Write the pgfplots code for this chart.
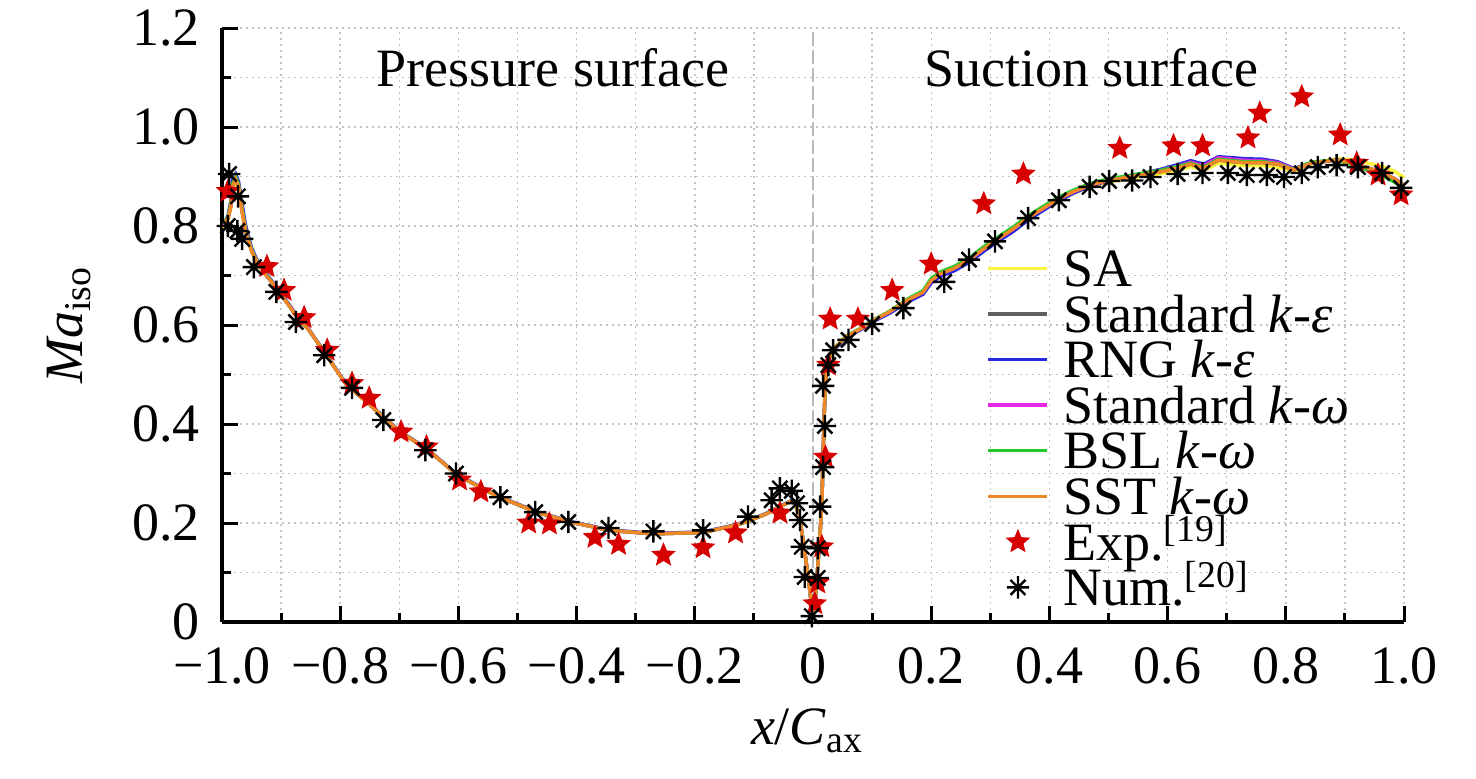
\documentclass[border=0pt]{standalone}
\usepackage{fontspec}
\setmainfont{Liberation Serif}
\usepackage{pgfplots}
\pgfplotsset{compat=1.18}
\usepackage{pgfplotstable}

\definecolor{cSA}{RGB}{250,245,60}
\definecolor{cSKE}{RGB}{95,95,95}
\definecolor{cRNG}{RGB}{40,40,225}
\definecolor{cSKW}{RGB}{230,40,230}
\definecolor{cBSL}{RGB}{40,200,40}
\definecolor{cSST}{RGB}{240,135,40}
\definecolor{cExp}{RGB}{215,0,0}
\definecolor{cGrid}{RGB}{195,195,195}

\pgfdeclareplotmark{pstar}{%
  \pgfpathmoveto{\pgfpointpolar{90}{\pgfplotmarksize}}%
  \pgfpathlineto{\pgfpointpolar{126}{0.45\pgfplotmarksize}}%
  \pgfpathlineto{\pgfpointpolar{162}{\pgfplotmarksize}}%
  \pgfpathlineto{\pgfpointpolar{198}{0.45\pgfplotmarksize}}%
  \pgfpathlineto{\pgfpointpolar{234}{\pgfplotmarksize}}%
  \pgfpathlineto{\pgfpointpolar{270}{0.45\pgfplotmarksize}}%
  \pgfpathlineto{\pgfpointpolar{306}{\pgfplotmarksize}}%
  \pgfpathlineto{\pgfpointpolar{342}{0.45\pgfplotmarksize}}%
  \pgfpathlineto{\pgfpointpolar{18}{\pgfplotmarksize}}%
  \pgfpathlineto{\pgfpointpolar{54}{0.45\pgfplotmarksize}}%
  \pgfpathclose
  \pgfusepathqfillstroke
}
\pgfdeclareplotmark{ast8}{%
  \pgfpathmoveto{\pgfqpoint{-\pgfplotmarksize}{0pt}}%
  \pgfpathlineto{\pgfqpoint{\pgfplotmarksize}{0pt}}%
  \pgfpathmoveto{\pgfqpoint{0pt}{-\pgfplotmarksize}}%
  \pgfpathlineto{\pgfqpoint{0pt}{\pgfplotmarksize}}%
  \pgfpathmoveto{\pgfpointpolar{45}{0.95\pgfplotmarksize}}%
  \pgfpathlineto{\pgfpointpolar{225}{0.95\pgfplotmarksize}}%
  \pgfpathmoveto{\pgfpointpolar{135}{0.95\pgfplotmarksize}}%
  \pgfpathlineto{\pgfpointpolar{315}{0.95\pgfplotmarksize}}%
  \pgfusepathqstroke
}

\pgfplotstableread{
x      sa    ske   rng   skw   bsl   sst
-0.997 0.795 0.800 0.805 0.800 0.805 0.805
-0.990 0.812 0.815 0.820 0.815 0.818 0.815
-0.985 0.835 0.840 0.850 0.842 0.845 0.840
-0.982 0.875 0.880 0.895 0.882 0.885 0.880
-0.977 0.890 0.895 0.905 0.897 0.900 0.895
-0.972 0.876 0.880 0.890 0.882 0.884 0.880
-0.966 0.826 0.830 0.845 0.832 0.835 0.830
-0.960 0.788 0.790 0.800 0.792 0.793 0.790
-0.950 0.748 0.750 0.756 0.751 0.752 0.750
-0.940 0.724 0.725 0.729 0.726 0.726 0.725
-0.925 0.700 0.700 0.703 0.700 0.701 0.700
-0.908 0.675 0.675 0.677 0.675 0.675 0.675
-0.890 0.645 0.645 0.647 0.645 0.645 0.645
-0.875 0.620 0.620 0.622 0.620 0.620 0.620
-0.853 0.590 0.590 0.591 0.590 0.590 0.590
-0.824 0.540 0.540 0.541 0.540 0.540 0.540
-0.790 0.480 0.480 0.481 0.480 0.480 0.480
-0.751 0.440 0.440 0.441 0.440 0.440 0.440
-0.700 0.385 0.385 0.386 0.385 0.385 0.385
-0.654 0.350 0.350 0.351 0.350 0.350 0.350
-0.603 0.298 0.298 0.299 0.298 0.298 0.298
-0.560 0.270 0.270 0.271 0.270 0.270 0.270
-0.530 0.252 0.252 0.253 0.252 0.252 0.252
-0.468 0.222 0.222 0.223 0.222 0.222 0.222
-0.410 0.202 0.202 0.203 0.202 0.202 0.202
-0.344 0.185 0.185 0.186 0.185 0.185 0.185
-0.270 0.178 0.178 0.179 0.178 0.178 0.178
-0.186 0.181 0.181 0.182 0.181 0.181 0.181
-0.129 0.196 0.196 0.197 0.196 0.196 0.196
-0.107 0.205 0.205 0.206 0.205 0.205 0.205
-0.080 0.218 0.218 0.219 0.218 0.218 0.218
-0.056 0.233 0.233 0.234 0.233 0.233 0.233
-0.039 0.243 0.243 0.244 0.243 0.243 0.243
-0.030 0.240 0.240 0.241 0.240 0.240 0.240
-0.022 0.206 0.206 0.206 0.206 0.206 0.206
-0.015 0.150 0.150 0.150 0.150 0.150 0.150
-0.008 0.090 0.090 0.090 0.090 0.090 0.090
-0.003 0.040 0.040 0.040 0.040 0.040 0.040
0.000  0.020 0.020 0.020 0.020 0.020 0.020
0.004  0.050 0.050 0.050 0.050 0.050 0.050
0.008  0.110 0.110 0.110 0.110 0.110 0.110
0.012  0.180 0.180 0.180 0.180 0.180 0.180
0.015  0.240 0.240 0.240 0.240 0.240 0.240
0.017  0.330 0.330 0.330 0.330 0.330 0.330
0.019  0.420 0.420 0.420 0.420 0.420 0.420
0.021  0.480 0.480 0.480 0.480 0.480 0.480
0.023  0.515 0.515 0.515 0.515 0.515 0.515
0.028  0.535 0.535 0.535 0.535 0.535 0.535
0.034  0.550 0.550 0.549 0.550 0.551 0.550
0.045  0.563 0.563 0.561 0.563 0.564 0.563
0.057  0.577 0.577 0.575 0.577 0.578 0.577
0.080  0.592 0.592 0.590 0.592 0.593 0.592
0.100  0.608 0.608 0.606 0.608 0.609 0.608
0.130  0.626 0.627 0.624 0.627 0.628 0.627
0.159  0.648 0.650 0.646 0.650 0.652 0.650
0.186  0.664 0.666 0.662 0.666 0.669 0.666
0.200  0.688 0.690 0.685 0.690 0.694 0.690
0.215  0.701 0.703 0.698 0.703 0.707 0.703
0.240  0.713 0.715 0.710 0.715 0.719 0.715
0.266  0.731 0.733 0.728 0.733 0.737 0.733
0.290  0.752 0.755 0.750 0.755 0.759 0.755
0.312  0.770 0.773 0.768 0.773 0.777 0.773
0.340  0.792 0.795 0.790 0.795 0.799 0.795
0.363  0.813 0.816 0.811 0.816 0.820 0.816
0.390  0.833 0.836 0.832 0.836 0.840 0.836
0.413  0.850 0.853 0.849 0.853 0.857 0.853
0.440  0.866 0.869 0.866 0.869 0.872 0.869
0.469  0.880 0.883 0.881 0.883 0.886 0.883
0.500  0.889 0.892 0.891 0.892 0.895 0.892
0.525  0.894 0.897 0.897 0.897 0.900 0.897
0.554  0.900 0.903 0.905 0.904 0.906 0.903
0.590  0.906 0.910 0.915 0.913 0.913 0.910
0.620  0.913 0.918 0.925 0.922 0.921 0.918
0.639  0.920 0.925 0.932 0.929 0.927 0.925
0.661  0.912 0.917 0.925 0.922 0.919 0.917
0.686  0.927 0.933 0.940 0.938 0.935 0.933
0.710  0.924 0.930 0.938 0.935 0.932 0.930
0.729  0.922 0.928 0.936 0.933 0.930 0.928
0.760  0.922 0.928 0.935 0.932 0.930 0.928
0.786  0.919 0.925 0.930 0.928 0.926 0.925
0.814  0.910 0.913 0.916 0.915 0.914 0.913
0.843  0.925 0.927 0.928 0.927 0.929 0.927
0.870  0.932 0.931 0.931 0.931 0.932 0.931
0.888  0.936 0.933 0.933 0.933 0.932 0.933
0.910  0.934 0.928 0.928 0.928 0.925 0.928
0.927  0.930 0.922 0.922 0.922 0.918 0.922
0.950  0.924 0.913 0.913 0.913 0.908 0.913
0.966  0.919 0.906 0.906 0.906 0.900 0.906
0.985  0.910 0.895 0.895 0.895 0.888 0.895
1.000  0.898 0.880 0.880 0.880 0.874 0.880
}\cfd

\pgfplotstableread{
x      y
-0.990 0.870
-0.924 0.718
-0.895 0.670
-0.861 0.615
-0.822 0.549
-0.780 0.482
-0.751 0.452
-0.697 0.384
-0.654 0.354
-0.598 0.287
-0.562 0.263
-0.481 0.200
-0.446 0.198
-0.369 0.171
-0.329 0.157
-0.253 0.135
-0.186 0.150
-0.131 0.180
-0.056 0.220
0.003  0.037
0.008  0.079
0.015  0.152
0.021  0.333
0.026  0.519
0.029  0.612
0.076  0.612
0.134  0.670
0.200  0.723
0.289  0.845
0.356  0.905
0.519  0.957
0.610  0.962
0.659  0.962
0.736  0.978
0.756  1.028
0.827  1.061
0.892  0.984
0.920  0.927
0.956  0.903
0.995  0.863
}\expdata

\pgfplotstableread{
x      y
-0.988 0.905
-0.973 0.860
-0.990 0.800
-0.974 0.790
-0.966 0.774
-0.946 0.717
-0.908 0.667
-0.875 0.606
-0.827 0.539
-0.780 0.473
-0.727 0.408
-0.656 0.347
-0.604 0.300
-0.529 0.252
-0.470 0.222
-0.414 0.202
-0.346 0.190
-0.270 0.183
-0.186 0.185
-0.110 0.213
-0.070 0.246
-0.056 0.270
-0.036 0.265
-0.027 0.240
-0.022 0.206
-0.019 0.152
-0.014 0.091
-0.002 0.012
0.008  0.089
0.008  0.149
0.012  0.233
0.017  0.313
0.020  0.396
0.017  0.477
0.026  0.519
0.034  0.549
0.060  0.570
0.100  0.602
0.153  0.634
0.222  0.687
0.264  0.732
0.308  0.769
0.364  0.816
0.416  0.852
0.468  0.879
0.501  0.891
0.540  0.892
0.571  0.899
0.617  0.905
0.659  0.907
0.702  0.907
0.734  0.903
0.768  0.903
0.797  0.899
0.827  0.907
0.854  0.919
0.886  0.923
0.922  0.919
0.963  0.907
0.995  0.877
}\numdata

\begin{document}
\fontsize{27}{32}\selectfont
\begin{tikzpicture}
\begin{axis}[
  scale only axis,
  width=591pt, height=297pt,
  xmin=-1, xmax=1, ymin=0, ymax=1.2,
  axis x line*=bottom, axis y line*=left,
  axis line style={line width=1.7pt, black},
  clip=false,
  xtick={-1,-0.8,-0.6,-0.4,-0.2,0,0.2,0.4,0.6,0.8,1},
  xticklabels={−1.0,−0.8,−0.6,−0.4,−0.2,0,0.2,0.4,0.6,0.8,1.0},
  ytick={0,0.2,0.4,0.6,0.8,1.0,1.2},
  yticklabels={0,0.2,0.4,0.6,0.8,1.0,1.2},
  minor tick num=1,
  tick align=inside,
  major tick length=8pt, minor tick length=4.5pt,
  every tick/.style={line width=1.5pt, black},
  grid=both,
  major grid style={cGrid, line width=0.7pt, dash pattern=on 1pt off 2pt},
  minor grid style={cGrid, line width=0.7pt, dash pattern=on 1pt off 2pt},
  xticklabel style={yshift=-3.5pt},
  yticklabel style={xshift=-2pt},
  xlabel={\textit{x}/\textit{C}\textsubscript{ax}},
  ylabel={\textit{Ma}\textsubscript{iso}},
  xlabel style={at={(axis description cs:0.495,-0.207)}, anchor=base},
  ylabel style={at={(axis description cs:-0.1176,0.5)}, anchor=base},
  legend image code/.code={\draw[mark repeat=2,mark phase=2,#1] plot coordinates {(0pt,0pt) (14.75pt,0pt) (29.5pt,0pt)};},
  legend cell align=left,
  legend style={at={(axis description cs:0.647,0.634)}, anchor=north west,
    draw=none, fill=none, inner sep=0pt, outer sep=0pt, row sep=0pt,
    nodes={inner sep=0pt, text height=20.5pt, text depth=2.3pt},
    /tikz/every odd column/.append style={column sep=7pt}},
]
\draw[gray!55, line width=1pt, dash pattern=on 6pt off 3pt] (axis cs:0,0) -- (axis cs:0,1.2);
\addplot[cSA, line width=1.7pt] table[x=x,y=sa] {\cfd};
\addlegendentry{SA}
\addplot[cSKE, line width=1.7pt] table[x=x,y=ske] {\cfd};
\addlegendentry{Standard \textit{k}-\textit{ε}}
\addplot[cRNG, line width=1.7pt] table[x=x,y=rng] {\cfd};
\addlegendentry{RNG \textit{k}-\textit{ε}}
\addplot[cSKW, line width=1.7pt] table[x=x,y=skw] {\cfd};
\addlegendentry{Standard \textit{k}-\textit{ω}}
\addplot[cBSL, line width=1.7pt] table[x=x,y=bsl] {\cfd};
\addlegendentry{BSL \textit{k}-\textit{ω}}
\addplot[cSST, line width=1.7pt] table[x=x,y=sst] {\cfd};
\addlegendentry{SST \textit{k}-\textit{ω}}
\addplot[only marks, mark=pstar, mark size=5.3pt, color=cExp, fill=cExp, line width=0.9pt] table[x=x,y=y] {\expdata};
\addlegendentry{Exp.\textsuperscript{[19]}}
\addplot[only marks, mark=ast8, mark size=5.6pt, black, line width=1.2pt] table[x=x,y=y] {\numdata};
\addlegendentry{Num.\textsuperscript{[20]}}
\node[anchor=base] at (axis cs:-0.44,1.081) {Pressure surface};
\node[anchor=base] at (axis cs:0.471,1.081) {Suction surface};
\end{axis}
\pgfresetboundingbox
\useasboundingbox (-111pt,-78pt) rectangle (627pt,311pt);
\end{tikzpicture}
\end{document}
